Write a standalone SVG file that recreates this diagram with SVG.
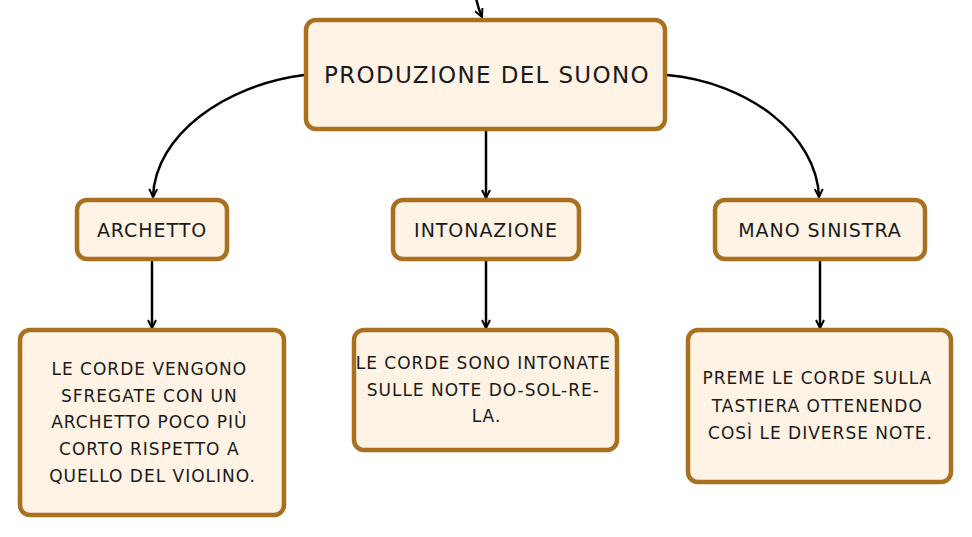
<svg xmlns="http://www.w3.org/2000/svg" width="972" height="537" viewBox="0 0 972 537">
<defs>
<style>
.node{fill:#FEF3E4;stroke:#A8701F;stroke-width:4.5}
.t{font-family:"DejaVu Sans","Liberation Sans",sans-serif;fill:#1A1A1A;text-anchor:middle}
.big{font-size:23px;letter-spacing:1.35px}
.mid{font-size:19px;letter-spacing:0.95px}
.small{font-size:17px;letter-spacing:1px}
.edge{fill:none;stroke:#000;stroke-width:2.5;marker-end:url(#arr)}
</style>
<marker id="arr" viewBox="0 0 10 10" refX="9" refY="5" markerWidth="4" markerHeight="4" orient="auto" markerUnits="strokeWidth">
<path d="M1,1 L9,5 L1,9" fill="none" stroke="#000" stroke-width="2"/>
</marker>
</defs>
<rect width="972" height="537" fill="#FFFFFF"/>
<g id="connectors">
<path class="edge" d="M476,-2 Q478,8 482,17"/>
<path class="edge" d="M304,75 C225,85 155,135 153,197"/>
<path class="edge" d="M667,75 C748,82 817,135 819,197"/>
<path class="edge" d="M486,131 L486,198"/>
<path class="edge" d="M152,261 L152,328"/>
<path class="edge" d="M486,261 L486,328"/>
<path class="edge" d="M820,261 L820,328"/>
</g>
<g id="node-produzione">
<rect class="node" x="306" y="20" width="359" height="109" rx="10"/>
<text class="t big" x="487" y="83">PRODUZIONE DEL SUONO</text>
</g>
<g id="node-archetto">
<rect class="node" x="77" y="200" width="150" height="59" rx="10"/>
<text class="t mid" x="152" y="237">ARCHETTO</text>
</g>
<g id="node-intonazione">
<rect class="node" x="393" y="200" width="186" height="59" rx="10"/>
<text class="t mid" x="486" y="237">INTONAZIONE</text>
</g>
<g id="node-mano">
<rect class="node" x="715" y="200" width="210" height="59" rx="10"/>
<text class="t mid" x="820" y="237">MANO SINISTRA</text>
</g>
<g id="node-archetto-desc">
<rect class="node" x="20" y="330" width="264" height="185" rx="10"/>
<text class="t small" x="152.5">
<tspan x="152.5" y="375">LE CORDE VENGONO</tspan>
<tspan x="152.5" y="401.7">SFREGATE CON UN</tspan>
<tspan x="152.5" y="428.3">ARCHETTO POCO PIÙ</tspan>
<tspan x="152.5" y="455">CORTO RISPETTO A</tspan>
<tspan x="152.5" y="482">QUELLO DEL VIOLINO.</tspan>
</text>
</g>
<g id="node-intonazione-desc">
<rect class="node" x="354" y="330" width="263" height="120" rx="10"/>
<text class="t small" x="486.5">
<tspan x="486.5" y="369">LE CORDE SONO INTONATE</tspan>
<tspan x="486.5" y="395.7">SULLE NOTE DO-SOL-RE-</tspan>
<tspan x="486.5" y="422.3">LA.</tspan>
</text>
</g>
<g id="node-mano-desc">
<rect class="node" x="688" y="330" width="263" height="152" rx="10"/>
<text class="t small" x="820.5">
<tspan x="820.5" y="384.3">PREME LE CORDE SULLA</tspan>
<tspan x="820.5" y="411.7">TASTIERA OTTENENDO</tspan>
<tspan x="820.5" y="439">COSÌ LE DIVERSE NOTE.</tspan>
</text>
</g>
</svg>
